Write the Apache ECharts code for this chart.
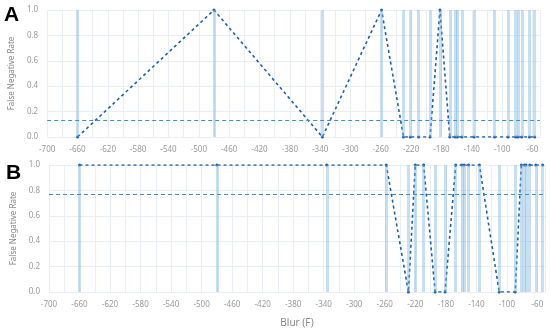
<!DOCTYPE html>
<html>
<head>
<meta charset="utf-8">
<script src="https://cdn.jsdelivr.net/npm/echarts@6/dist/echarts.min.js"></script>
<style>
  html, body { margin: 0; padding: 0; background: #fff; }
  .charts { width: 550px; height: 331px; }
</style>
</head>
<body>
<div class="charts"></div>
<script>
'use strict';

// panel A
const blurA = [-660, -480, -337, -259, -230, -221, -210, -195, -182, -169, -162, -159, -153, -137, -110, -92, -82, -79, -74, -64, -57];
const fnrA = [0, 1, 0, 1, 0, 0, 0, 0, 1, 0, 0, 0, 0, 0, 0, 0, 0, 0, 0, 0, 0];
const meanA = 0.13;

// panel B
const blurB = [-660, -480, -336, -258, -229, -220, -209, -194, -181, -167, -159, -156, -150, -136, -110, -89, -81, -77, -75, -70, -62, -53];
const fnrB = [1, 1, 1, 1, 0, 1, 1, 0, 0, 1, 1, 1, 1, 1, 0, 0, 1, 1, 1, 1, 1, 1];
const meanB = 0.77;

const panelLetters = ['A', 'B'];
const xTicks = { min: -700, max: -50, interval: 40 };
const yTicks = { min: 0, max: 1, interval: 0.2 };

const myChart = echarts.init(document.querySelector('.charts'));

const labelColor = '#9a9a9a';
const gridColor = '#e8eef4';
const font = 'Noto Sans';

const grids = [
  { left: 44, width: 496, top: 10, height: 127 },
  { left: 49, width: 496, top: 165, height: 127 },
];

const makeX = (i) => ({
  type: 'value',
  gridIndex: i,
  min: xTicks.min,
  max: xTicks.max,
  interval: xTicks.interval,
  name: i === 1 ? 'Blur (F)' : '',
  nameLocation: 'middle',
  nameGap: 26,
  nameTextStyle: { color: '#888', fontSize: 10, fontFamily: font },
  axisLine: { show: false },
  axisTick: { show: false },
  axisLabel: { color: labelColor, fontSize: 8, fontFamily: font, margin: 9, showMaxLabel: false },
  splitLine: { lineStyle: { color: gridColor, width: 1 } },
  minorTick: { show: false, splitNumber: 2 },
  minorSplitLine: { show: true, lineStyle: { color: gridColor, width: 1 } },
});

const makeY = (i) => ({
  type: 'value',
  gridIndex: i,
  min: yTicks.min,
  max: yTicks.max,
  interval: yTicks.interval,
  name: 'False Negative Rate',
  nameLocation: 'middle',
  nameGap: 28,
  nameTextStyle: { color: '#888', fontSize: 8, fontFamily: font },
  axisLine: { show: false },
  axisTick: { show: false },
  axisLabel: { color: labelColor, fontSize: 8, fontFamily: font, margin: 9, formatter: (v) => v.toFixed(1) },
  splitLine: { lineStyle: { color: gridColor, width: 1 } },
});

const pairs = (xs, ys) => xs.map((x, k) => [x, ys[k]]);

const bandSeries = (i, xs) => ({
  type: 'line',
  xAxisIndex: i,
  yAxisIndex: i,
  z: 1,
  silent: true,
  data: [],
  markLine: {
    silent: true,
    symbol: 'none',
    label: { show: false },
    animation: false,
    lineStyle: { type: 'solid', color: 'rgba(120, 180, 225, 0.42)', width: 3 },
    data: xs.map((x) => ({ xAxis: x })),
  },
});

const lineSeries = (i, xs, ys, mean) => ({
  type: 'line',
  xAxisIndex: i,
  yAxisIndex: i,
  z: 3,
  data: pairs(xs, ys),
  showSymbol: true,
  symbol: 'circle',
  symbolSize: 3,
  itemStyle: { color: '#1f5fa8' },
  lineStyle: { color: '#1f5fa8', width: 1.6, type: [3, 3] },
  animation: false,
  markLine: {
    silent: true,
    symbol: 'none',
    label: { show: false },
    animation: false,
    lineStyle: { type: [4, 3], color: '#3d8fd0', width: 1 },
    data: [{ yAxis: mean }],
  },
});

const option = {
  animation: false,
  grid: grids,
  xAxis: [makeX(0), makeX(1)],
  yAxis: [makeY(0), makeY(1)],
  graphic: panelLetters.map((t, k) => ({
    type: 'text',
    left: k === 0 ? 4 : 6,
    top: k === 0 ? 5 : 163,
    style: { text: t, fontSize: 21, fontWeight: 'bold', fill: '#000', fontFamily: 'Liberation Sans' },
  })),
  series: [
    bandSeries(0, blurA),
    bandSeries(1, blurB),
    lineSeries(0, blurA, fnrA, meanA),
    lineSeries(1, blurB, fnrB, meanB),
  ],
};

myChart.setOption(option);
</script>
</body>
</html>
